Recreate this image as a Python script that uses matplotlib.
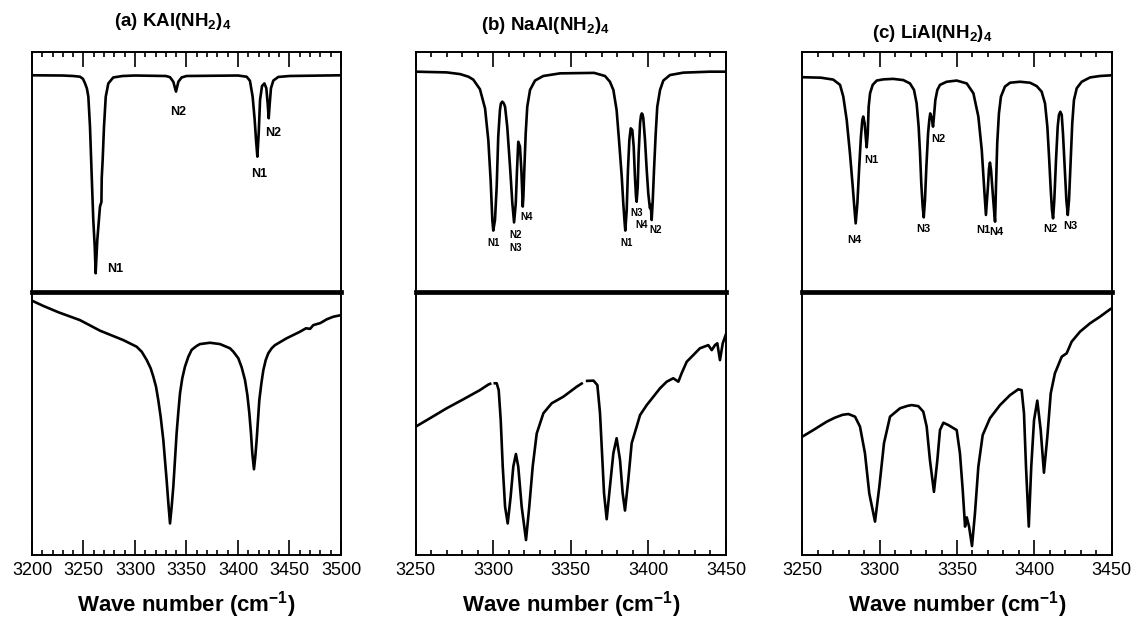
#!/usr/bin/env python
# N-H stretching region: calculated (top) vs measured (bottom) spectra

import numpy as np
import matplotlib.pyplot as plt
import matplotlib.ticker as ticker

nan = np.nan

# (a) KAl(NH2)4
a_calc_wn = [3200, 3230, 3240, 3246.6, 3249.5, 3251.5, 3253.3, 3254.7, 3256.3, 3258.0, 3259.5,
             3260.9, 3261.8, 3263.4, 3266.0, 3267.4, 3267.7, 3268.6, 3269.9, 3271.6, 3274.1,
             3278.9, 3288, 3300, 3330, 3334, 3337.2, 3339.8, 3342.1, 3345.3, 3350, 3400,
             3408.4, 3411.6, 3414.2, 3416.2, 3417.5, 3418.8, 3420.1, 3421.4, 3423.3, 3425.6,
             3427.5, 3428.8, 3429.8, 3430.7, 3432.0, 3434.3, 3439.1, 3450, 3500]
a_calc_int = [0.903, 0.902, 0.900, 0.897, 0.888, 0.869, 0.848, 0.814, 0.689, 0.480, 0.300,
              0.189, 0.078, 0.217, 0.356, 0.375, 0.475, 0.550, 0.689, 0.814, 0.869,
              0.894, 0.900, 0.902, 0.900, 0.895, 0.876, 0.835, 0.876, 0.894, 0.900, 0.902,
              0.897, 0.880, 0.814, 0.717, 0.633, 0.564, 0.661, 0.800, 0.858, 0.869,
              0.849, 0.786, 0.724, 0.779, 0.849, 0.881, 0.896, 0.900, 0.903]
a_exp_wn = [3200, 3211, 3225.6, 3246.6, 3266, 3288.7, 3301.6, 3306.5, 3311.3, 3315.2, 3317.8,
            3320.4, 3322.6, 3324.9, 3327.5, 3329.1, 3330.7, 3332.4, 3334.0, 3335.6, 3337.2,
            3338.8, 3340.4, 3342.1, 3343.7, 3345.9, 3348.5, 3351.8, 3355.0, 3359.9, 3363.1,
            3372.8, 3382.5, 3392.2, 3395.5, 3400.3, 3403.6, 3406.8, 3409.1, 3411.0, 3412.6,
            3413.9, 3415.5, 3416.8, 3418.1, 3419.4, 3420.7, 3422.7, 3424.6, 3426.9, 3429.4,
            3432.7, 3435.9, 3447.2, 3460.2, 3466, 3470, 3473.1, 3480, 3486.1, 3492.5, 3500]
a_exp_int = [0.967, 0.947, 0.923, 0.893, 0.853, 0.817, 0.792, 0.773, 0.742, 0.710, 0.678,
             0.640, 0.589, 0.526, 0.437, 0.361, 0.285, 0.196, 0.120, 0.184, 0.260,
             0.361, 0.463, 0.545, 0.615, 0.672, 0.716, 0.754, 0.780, 0.795, 0.802,
             0.807, 0.802, 0.786, 0.773, 0.748, 0.713, 0.665, 0.608, 0.539, 0.463,
             0.386, 0.326, 0.374, 0.437, 0.513, 0.589, 0.653, 0.703, 0.741, 0.767,
             0.786, 0.798, 0.824, 0.849, 0.862, 0.860, 0.874, 0.882, 0.896, 0.906, 0.912]
a_labels = ['N1', 'N2', 'N1', 'N2']
a_label_wn = [3280.9, 3341.7, 3420.1, 3434.3]
a_label_int = [0.097, 0.751, 0.493, 0.662]

# (b) NaAl(NH2)4
b_calc_wn = [3250, 3270, 3278.6, 3284, 3287.1, 3291.4, 3294.7, 3296.8, 3298.3, 3299.4, 3300.0,
             3301.1, 3302.2, 3303.2, 3304.3, 3304.9, 3305.8, 3306.7, 3307.6, 3309.0, 3310.8,
             3312.3, 3313.4, 3314.5, 3315.3, 3316.1, 3317.2, 3318.1, 3318.7, 3319.0, 3319.4,
             3320.0, 3320.9, 3321.9, 3323.7, 3326.9, 3332.2, 3343.0, 3365, 3372, 3375.2,
             3377.4, 3379.5, 3381.2, 3382.8, 3383.8, 3384.7, 3385.1, 3386.0, 3386.8, 3387.7,
             3388.6, 3389.6, 3390.5, 3391.3, 3392.0, 3392.4, 3393.1, 3393.7, 3394.6, 3395.2,
             3395.7, 3396.2, 3396.7, 3397.8, 3398.9, 3399.9, 3400.6, 3401.0, 3401.5, 3402.1,
             3402.8, 3403.6, 3404.7, 3405.7, 3407.5, 3409.6, 3413.9, 3422.5, 3439.7, 3450]
b_calc_int = [0.918, 0.915, 0.908, 0.897, 0.885, 0.845, 0.765, 0.633, 0.466, 0.300, 0.256,
              0.300, 0.439, 0.647, 0.758, 0.785, 0.793, 0.787, 0.772, 0.689, 0.522,
              0.369, 0.290, 0.369, 0.508, 0.626, 0.606, 0.508, 0.411, 0.356, 0.397,
              0.508, 0.661, 0.772, 0.842, 0.881, 0.900, 0.911, 0.913, 0.900, 0.876,
              0.842, 0.758, 0.619, 0.481, 0.369, 0.286, 0.256, 0.342, 0.508, 0.633,
              0.682, 0.675, 0.606, 0.481, 0.397, 0.376, 0.439, 0.578, 0.703, 0.735,
              0.744, 0.740, 0.724, 0.633, 0.508, 0.411, 0.369, 0.349, 0.363, 0.300,
              0.383, 0.508, 0.661, 0.772, 0.842, 0.881, 0.904, 0.914, 0.918, 0.918]
b_exp_wn = [3250, 3259.2, 3270.0, 3280.7, 3291.4, 3296.8, 3298.0, nan, 3301.0, 3302.2, 3303.5,
            3304.8, 3306.1, 3307.6, 3309.3, 3311.2, 3312.9, 3314.6, 3316.1, 3318.3, 3321.1,
            3323.2, 3325.4, 3328.0, 3332.3, 3337.7, 3345.2, 3353.8, 3357.0, nan, 3360.5,
            3364.6, 3367.1, 3368.8, 3370.1, 3371.4, 3373.1, 3375.2, 3377.4, 3379.5, 3381.7,
            3383.4, 3384.9, 3387.0, 3389.2, 3392.4, 3394.6, 3398.9, 3403.2, 3407.5, 3411.8,
            3416.0, 3419.3, 3421.4, 3424.7, 3428.9, 3433.2, 3438.6, 3440.8, 3442.9, 3444.4,
            3446.1, 3447.9, 3449.4, 3450]
b_exp_int = [0.488, 0.520, 0.558, 0.592, 0.627, 0.648, 0.651, nan, 0.653, 0.653, 0.627,
             0.513, 0.336, 0.184, 0.120, 0.222, 0.336, 0.384, 0.336, 0.184, 0.057,
             0.184, 0.336, 0.462, 0.539, 0.577, 0.602, 0.640, 0.652, nan, 0.662,
             0.663, 0.646, 0.539, 0.387, 0.234, 0.136, 0.260, 0.387, 0.444, 0.361,
             0.234, 0.169, 0.285, 0.425, 0.488, 0.532, 0.570, 0.602, 0.634, 0.659,
             0.672, 0.659, 0.691, 0.735, 0.760, 0.786, 0.798, 0.779, 0.798, 0.805,
             0.741, 0.805, 0.830, 0.840]
b_labels = ['N1', 'N2', 'N3', 'N4', 'N1', 'N3', 'N4', 'N2']
b_label_wn = [3300.0, 3314.6, 3314.6, 3321.5, 3386.2, 3392.6, 3395.9, 3404.9]
b_label_int = [0.204, 0.2375, 0.182, 0.3125, 0.204, 0.331, 0.278, 0.257]

# (c) LiAl(NH2)4
c_calc_wn = [3250, 3262, 3270, 3274.4, 3276.5, 3278.7, 3280.8, 3282.6, 3283.6, 3284.5, 3285.6,
             3286.8, 3287.9, 3288.8, 3289.4, 3290.3, 3291.0, 3291.6, 3292.3, 3292.9, 3293.8,
             3295.5, 3298.1, 3302.4, 3308.8, 3315.3, 3319.6, 3322.2, 3323.9, 3325.2, 3326.1,
             3326.9, 3327.8, 3328.5, 3329.3, 3330.2, 3331.3, 3332.1, 3332.7, 3333.7, 3334.5,
             3335.1, 3336.0, 3337.3, 3339.0, 3343.3, 3349.8, 3356.3, 3360.6, 3363.8, 3366.0,
             3367.5, 3368.7, 3370.0, 3370.7, 3371.3, 3372.0, 3373.1, 3374.1, 3374.6, 3375.2,
             3376.0, 3377.1, 3378.4, 3381.0, 3384.3, 3390.7, 3397.2, 3401.5, 3404.7, 3406.9,
             3408.4, 3409.5, 3410.6, 3411.4, 3412.1, 3412.9, 3414.0, 3415.1, 3415.9, 3416.8,
             3417.7, 3418.5, 3419.6, 3420.7, 3421.6, 3422.4, 3423.5, 3424.5, 3425.6, 3427.4,
             3430.6, 3436.0, 3442.4, 3450]
c_calc_int = [0.895, 0.893, 0.885, 0.863, 0.814, 0.717, 0.578, 0.439, 0.356, 0.286, 0.369,
              0.522, 0.647, 0.717, 0.731, 0.703, 0.647, 0.603, 0.661, 0.772, 0.828,
              0.863, 0.881, 0.886, 0.888, 0.883, 0.869, 0.842, 0.786, 0.689, 0.578,
              0.453, 0.356, 0.311, 0.383, 0.522, 0.661, 0.717, 0.744, 0.724, 0.689,
              0.731, 0.800, 0.842, 0.863, 0.876, 0.881, 0.869, 0.828, 0.731, 0.592,
              0.439, 0.321, 0.439, 0.515, 0.539, 0.508, 0.411, 0.328, 0.293, 0.439,
              0.619, 0.744, 0.814, 0.856, 0.872, 0.876, 0.872, 0.858, 0.835, 0.786,
              0.689, 0.564, 0.425, 0.342, 0.307, 0.383, 0.550, 0.689, 0.738, 0.751,
              0.738, 0.661, 0.522, 0.383, 0.321, 0.383, 0.550, 0.703, 0.800, 0.849,
              0.876, 0.894, 0.900, 0.903]
c_exp_wn = [3250, 3257.1, 3265.8, 3271, 3276, 3279.8, 3284.1, 3287.3, 3290.5, 3293.3, 3297.0,
            3299.8, 3302.8, 3306.7, 3313.2, 3318, 3320.7, 3325.0, 3328.2, 3330.4, 3332.5,
            3335.1, 3337.3, 3339.0, 3341.2, 3344.4, 3349.8, 3351.9, 3353.7, 3355.2, 3356.3,
            3357.8, 3359.7, 3361.6, 3363.8, 3366.6, 3371.3, 3377.8, 3384.3, 3389.6, 3391.8,
            3393.3, 3394.6, 3396.4, 3398.0, 3399.8, 3401.9, 3404.1, 3406.2, 3408.4, 3410.6,
            3413.3, 3417.7, 3420.9, 3424.1, 3429.5, 3436.0, 3442.4, 3448.9, 3450]
c_exp_int = [0.450, 0.475, 0.507, 0.522, 0.533, 0.536, 0.526, 0.488, 0.387, 0.234, 0.127,
             0.260, 0.425, 0.526, 0.558, 0.567, 0.570, 0.566, 0.545, 0.488, 0.361,
             0.240, 0.361, 0.475, 0.503, 0.494, 0.475, 0.387, 0.247, 0.108, 0.143,
             0.108, 0.034, 0.158, 0.336, 0.456, 0.520, 0.570, 0.608, 0.630, 0.627,
             0.539, 0.336, 0.108, 0.336, 0.513, 0.587, 0.475, 0.313, 0.450, 0.615,
             0.691, 0.754, 0.767, 0.811, 0.849, 0.881, 0.906, 0.934, 0.938]
c_labels = ['N4', 'N1', 'N3', 'N2', 'N1', 'N4', 'N2', 'N3']
c_label_wn = [3283.6, 3294.9, 3328.2, 3337.7, 3366.8, 3375.4, 3410.6, 3423.0]
c_label_int = [0.218, 0.549, 0.264, 0.639, 0.260, 0.250, 0.264, 0.275]

titles = [r'(a) KAl(NH$_\mathbf{2}$)$_\mathbf{4}$',
          r'(b) NaAl(NH$_\mathbf{2}$)$_\mathbf{4}$',
          r'(c) LiAl(NH$_\mathbf{2}$)$_\mathbf{4}$']

plt.rcParams['font.family'] = ['Liberation Sans', 'DejaVu Sans']
plt.rcParams['mathtext.fontset'] = 'custom'
plt.rcParams['mathtext.rm'] = 'Liberation Sans'
plt.rcParams['mathtext.bf'] = 'Liberation Sans:bold'

W, H = 1132, 621
fig = plt.figure(figsize=(W / 100, H / 100), dpi=100)

Y_TOP, Y_MID, Y_BOT = 52, 292, 555


def draw_panel(x0, x1, xlim, title, title_xy, calc, exp, labels, label_size):
    left = x0 / W
    width = (x1 - x0) / W
    ax_top = fig.add_axes([left, 1 - Y_MID / H, width, (Y_MID - Y_TOP) / H])
    ax_bot = fig.add_axes([left, 1 - Y_BOT / H, width, (Y_BOT - Y_MID) / H])
    ax_top.set_zorder(2)
    ax_top.patch.set_alpha(0)

    ax_top.plot(calc[0], calc[1], color='black', lw=1.9, solid_joinstyle='round')
    ax_bot.plot(exp[0], exp[1], color='black', lw=1.9, solid_joinstyle='round')

    for name, wn, y in zip(*labels):
        ax_top.text(wn, y, name, fontsize=label_size, fontweight='bold',
                    ha='center', va='center')

    for ax in (ax_top, ax_bot):
        ax.set_xlim(*xlim)
        ax.set_ylim(0, 1)
        ax.set_yticks([])
        ax.xaxis.set_major_locator(ticker.MultipleLocator(50))
        ax.xaxis.set_minor_locator(ticker.MultipleLocator(10))
        ax.tick_params(axis='x', which='both', direction='in', width=1.2)
        ax.tick_params(axis='x', which='major', length=10.5)
        ax.tick_params(axis='x', which='minor', length=3.6)
        for s in ax.spines.values():
            s.set_linewidth(1.4)

    ax_top.tick_params(axis='x', which='both', top=True, bottom=False,
                       labeltop=False, labelbottom=False)
    ax_top.spines['bottom'].set_linewidth(3.4)
    ax_bot.spines['top'].set_visible(False)
    ax_bot.tick_params(axis='x', which='both', top=False, bottom=True,
                       labelsize=13, pad=5)
    ax_bot.set_xlabel(r'Wave number (cm$^\mathbf{-1}$)', fontsize=16,
                      fontweight='bold', labelpad=7)

    fig.text(title_xy[0] / W, 1 - title_xy[1] / H, title, fontsize=13.5,
             fontweight='bold', ha='center', va='center')


draw_panel(32, 341, (3200, 3500), titles[0], (173, 22),
           (a_calc_wn, a_calc_int), (a_exp_wn, a_exp_int),
           (a_labels, a_label_wn, a_label_int), 9)
draw_panel(415.7, 726, (3250, 3450), titles[1], (545, 26),
           (b_calc_wn, b_calc_int), (b_exp_wn, b_exp_int),
           (b_labels, b_label_wn, b_label_int), 7)
draw_panel(802.3, 1111.7, (3250, 3450), titles[2], (932, 33),
           (c_calc_wn, c_calc_int), (c_exp_wn, c_exp_int),
           (c_labels, c_label_wn, c_label_int), 8)

fig.savefig('out.png', dpi=100, facecolor='white')
